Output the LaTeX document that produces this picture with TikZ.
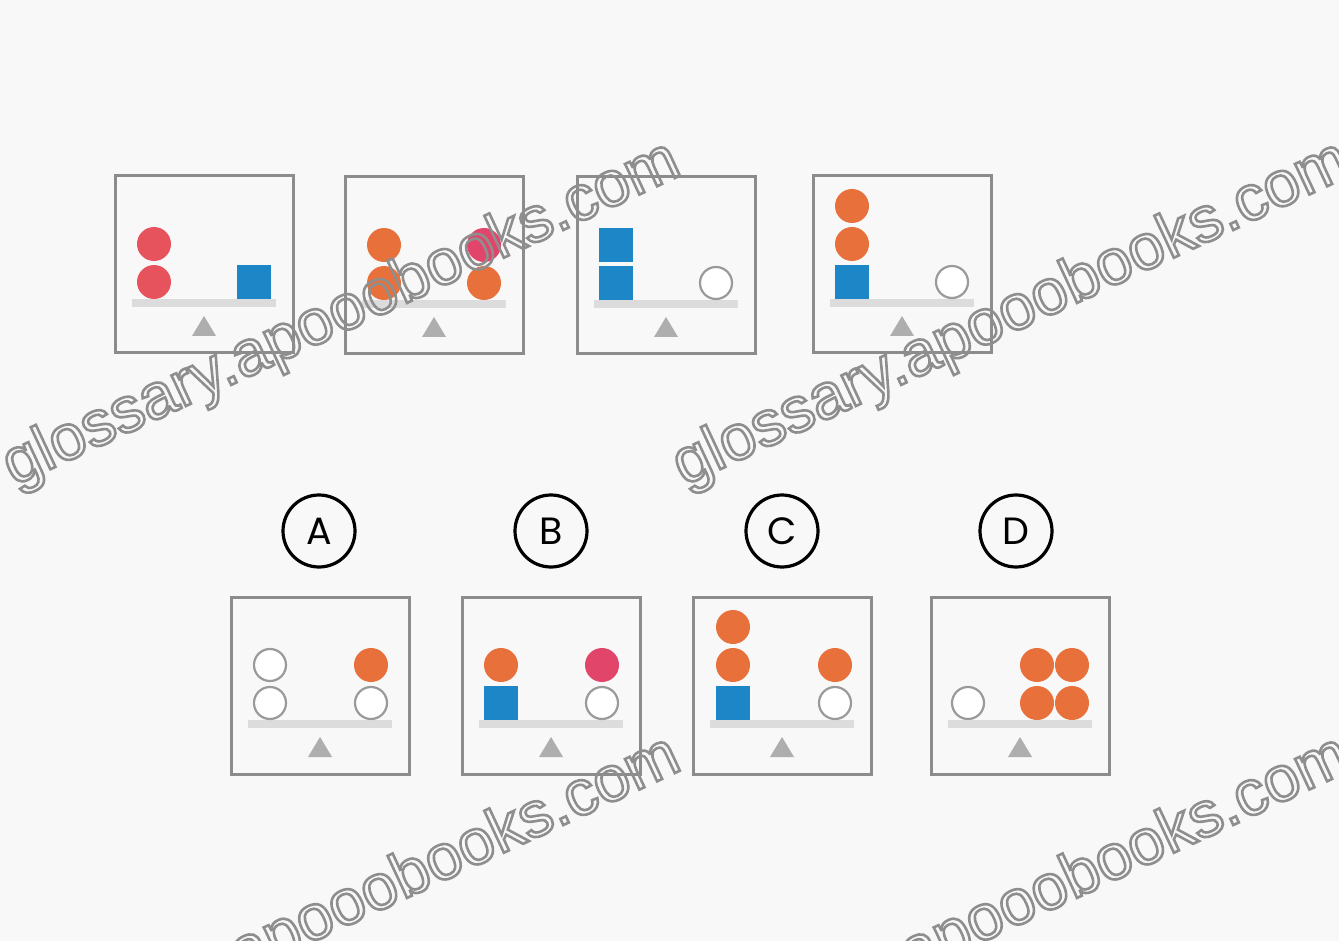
\documentclass[tikz,border=0pt]{standalone}
\usepackage{fontspec}
\setmainfont{Poppins}
\newfontfamily\wmfont{Liberation Sans}
\definecolor{BackClr}{HTML}{F8F8F8}
\definecolor{FrameClr}{HTML}{8C8C8C}
\definecolor{BeamClr}{HTML}{DCDCDC}
\definecolor{PivotClr}{HTML}{AEAEAE}
\definecolor{HollowClr}{HTML}{9A9A9A}
\definecolor{RedClr}{HTML}{E6535C}
\definecolor{OrangeClr}{HTML}{E8703A}
\definecolor{PinkClr}{HTML}{E2456A}
\definecolor{BlueClr}{HTML}{1C86C6}
\definecolor{WaterClr}{HTML}{8E8E8E}

\tikzset{
  frame/.style={draw=FrameClr, line width=1.5pt, minimum width=89pt, minimum height=88.5pt, inner sep=0pt},
  beam/.style={fill=BeamClr},
  pivot/.style={fill=PivotClr},
  hollow/.style={draw=HollowClr, fill=white, line width=1.1pt},
  tag/.style={circle, draw=black, line width=1.6pt, minimum size=36pt, inner sep=0pt, font=\fontsize{19}{19}\selectfont},
  watermark/.style={rotate=25, text=WaterClr, inner sep=0pt, font=\wmfont\fontsize{32}{32}\selectfont}
}

% one scale: name, centre x, top y
\newcommand{\balance}[3]{%
  \node[frame] (#1) at (#2,{#3+88.5}) {};
  \fill[beam] ({#2-72},{#3+123}) rectangle ({#2+72},{#3+131});
  \fill[pivot] (#2,{#3+140}) -- ({#2+12},{#3+160}) -- ({#2-12},{#3+160}) -- cycle;
}
% weights: x, top y of the scale, level
\newcommand{\disc}[4][OrangeClr]{\fill[#1] (#2,{#3+106-38*#4}) circle (17);}
\newcommand{\block}[3]{\fill[BlueClr] ({#1-17},{#2+89-38*#3}) rectangle ({#1+17},{#2+123-38*#3});}
\newcommand{\emptydisc}[3]{\draw[hollow] (#1,{#2+106-38*#3}) circle (16);}
\newcommand{\hollowtext}[1]{\special{pdf:literal direct 1 Tr 1.3 w}#1\special{pdf:literal direct 0 Tr}}

\begin{document}
\begin{tikzpicture}[x=0.5pt,y=-0.5pt]
\useasboundingbox (0,0) rectangle (1339,941);
\clip (0,0) rectangle (1339,941);
\fill[BackClr] (0,0) rectangle (1339,941);

% question row
\balance{q1}{204}{176}
\disc[RedClr]{154}{176}{0} \disc[RedClr]{154}{176}{1}
\block{254}{176}{0}

\balance{q2}{434}{177}
\disc{384}{177}{0} \disc{384}{177}{1}
\disc{484}{177}{0} \disc[PinkClr]{484}{177}{1}

\balance{q3}{666}{177}
\block{616}{177}{0} \block{616}{177}{1}
\emptydisc{716}{177}{0}

\balance{q4}{902}{176}
\block{852}{176}{0} \disc{852}{176}{1} \disc{852}{176}{2}
\emptydisc{952}{176}{0}

% answer row
\node[tag] (tagA) at (319,531) {A};
\node[tag] (tagB) at (551,531) {B};
\node[tag] (tagC) at (782,531) {C};
\node[tag] (tagD) at (1016,531) {D};

\balance{a1}{320}{597}
\emptydisc{270}{597}{0} \emptydisc{270}{597}{1}
\emptydisc{371}{597}{0} \disc{371}{597}{1}

\balance{a2}{551}{597}
\block{501}{597}{0} \disc{501}{597}{1}
\emptydisc{602}{597}{0} \disc[PinkClr]{602}{597}{1}

\balance{a3}{782}{597}
\block{733}{597}{0} \disc{733}{597}{1} \disc{733}{597}{2}
\emptydisc{835}{597}{0} \disc{835}{597}{1}

\balance{a4}{1020}{597}
\emptydisc{968}{597}{0}
\foreach \dx in {17,52}
  \foreach \lv in {0,1}
    {\disc{\numexpr1020+\dx\relax}{597}{\lv}}

% watermarks
\node[watermark] (wm1) at (342,315) {\hollowtext{glossary.apooobooks.com}};
\node[watermark] (wm2) at (1012,315) {\hollowtext{glossary.apooobooks.com}};
\node[watermark] (wm3) at (342,910) {\hollowtext{glossary.apooobooks.com}};
\node[watermark] (wm4) at (1012,910) {\hollowtext{glossary.apooobooks.com}};
\end{tikzpicture}
\end{document}
